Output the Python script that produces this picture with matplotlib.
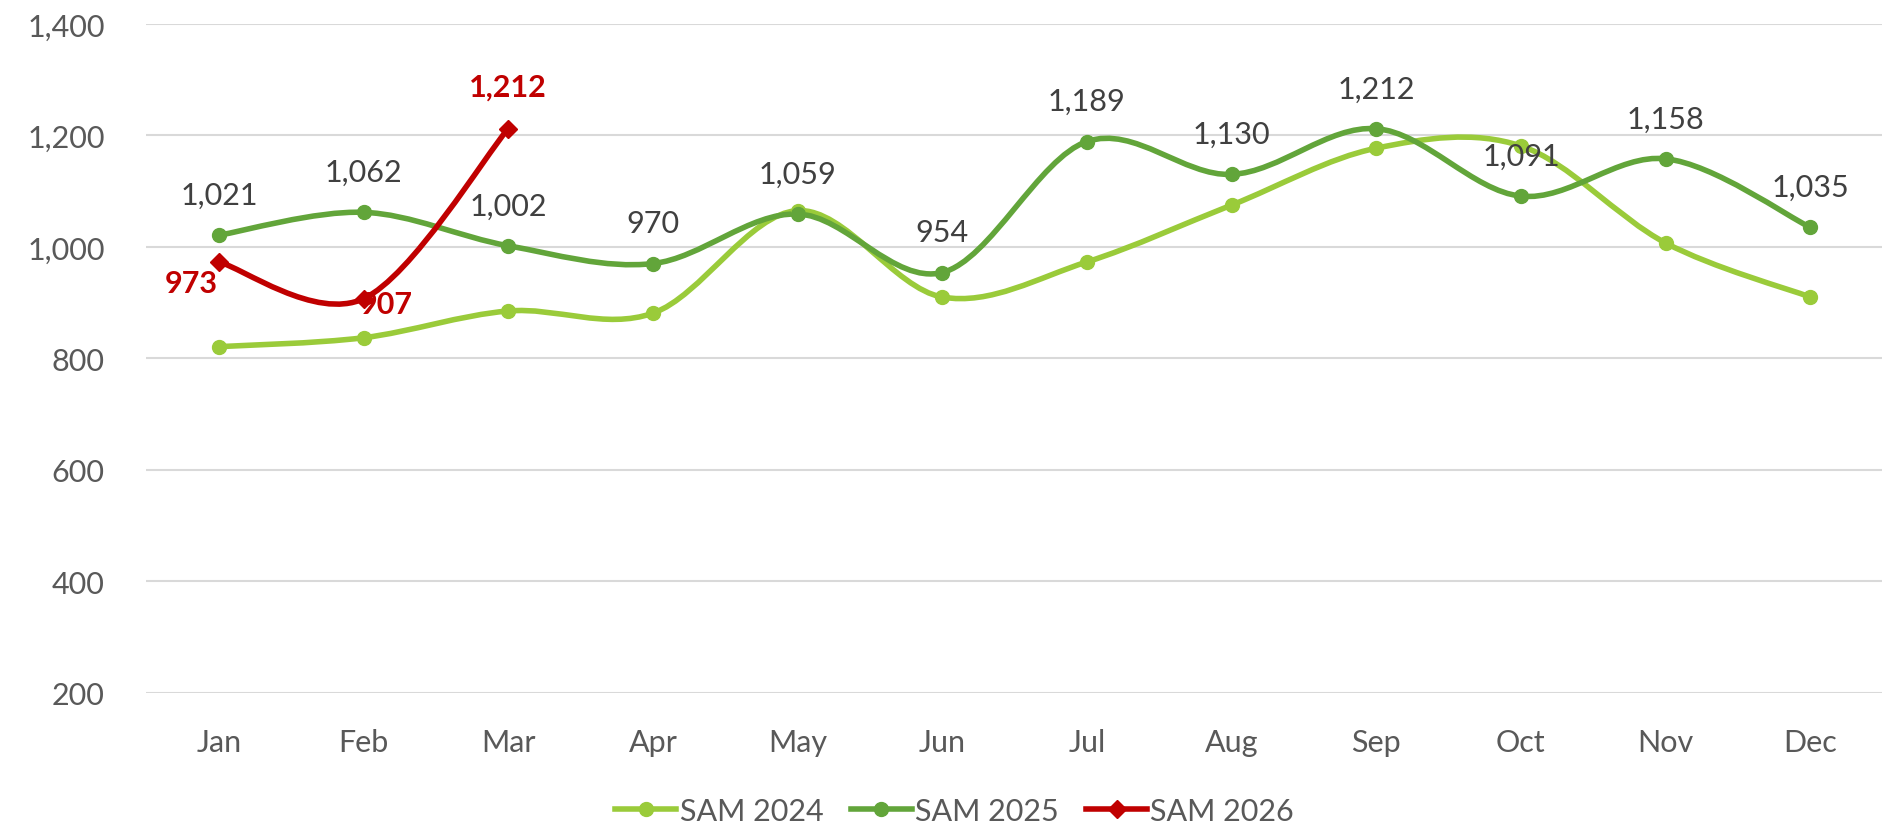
import numpy as np
import matplotlib.pyplot as plt
from matplotlib.path import Path
from matplotlib.patches import PathPatch
from matplotlib.lines import Line2D

plt.rcParams['font.family'] = ['Lato', 'DejaVu Sans']

months = ['Jan', 'Feb', 'Mar', 'Apr', 'May', 'Jun',
          'Jul', 'Aug', 'Sep', 'Oct', 'Nov', 'Dec']
sam_2024 = [821, 837, 885, 881, 1065, 910, 973, 1075, 1177, 1181, 1007, 910]
sam_2025 = [1021, 1062, 1002, 970, 1059, 954, 1189, 1130, 1212, 1091, 1158, 1035]
sam_2026 = [973, 907, 1212]
y_ticks = [200, 400, 600, 800, 1000, 1200, 1400]

c24 = '#9acb3a'
c25 = '#62a53a'
c26 = '#c00000'


def smooth_path(xs, ys):
    # excel style smoothed line: cubic bezier through every point
    pts = np.column_stack([xs, ys]).astype(float)
    n = len(pts)
    verts = [pts[0]]
    codes = [Path.MOVETO]
    for i in range(n - 1):
        p0 = pts[i - 1] if i > 0 else pts[i]
        p1 = pts[i]
        p2 = pts[i + 1]
        p3 = pts[i + 2] if i + 2 < n else pts[i + 1]
        verts += [p1 + (p2 - p0) / 6, p2 - (p3 - p1) / 6, p2]
        codes += [Path.CURVE4] * 3
    return Path(verts, codes)


fig = plt.figure(figsize=(18.83, 8.29), dpi=100)
ax = fig.add_axes([0.0778, 0.163, 0.922, 0.807])

series = [
    (sam_2024, c24, 'o', 'SAM 2024'),
    (sam_2025, c25, 'o', 'SAM 2025'),
    (sam_2026, c26, 'D', 'SAM 2026'),
]
for vals, col, mk, name in series:
    x = np.arange(len(vals))
    ax.add_patch(PathPatch(smooth_path(x, vals), fill=False, edgecolor=col,
                           lw=4, capstyle='round', joinstyle='round', zorder=3))
    ax.plot(x, vals, ls='none', marker=mk, ms=10 if mk == 'o' else 9,
            color=col, zorder=4)

for i, v in enumerate(sam_2025):
    ax.annotate(f'{v:,}', (i, v), xytext=(0, 29), textcoords='offset points',
                ha='center', va='center', fontsize=22, color='#404040', zorder=5)

# red labels, positioned like the original
red_pos = [((-1, -15), 'right'), ((-3, -4), 'left'), ((0, 30), 'center')]
for i, v in enumerate(sam_2026):
    off, ha = red_pos[i]
    ax.annotate(f'{v:,}', (i, v), xytext=off, textcoords='offset points',
                ha=ha, va='center', fontsize=22, fontweight='bold',
                color=c26, zorder=5)

ax.set_xlim(-0.5, 11.5)
ax.set_ylim(200, 1400)
ax.set_xticks(range(12))
ax.set_xticklabels(months)
ax.set_yticks(y_ticks)
ax.set_yticklabels([f'{t:,}' for t in y_ticks])
ax.tick_params(axis='both', length=0, labelsize=22, colors='#595959')
ax.tick_params(axis='x', pad=25)
ax.tick_params(axis='y', pad=30)
ax.grid(axis='y', color='#d9d9d9', lw=1.5)
ax.set_axisbelow(True)
for s in ax.spines.values():
    s.set_visible(False)

handles = [Line2D([], [], color=c, lw=4, marker=m, ms=10 if m == 'o' else 9)
           for _, c, m, _ in series]
fig.legend(handles, [s[3] for s in series], loc='center', ncol=3,
           bbox_to_anchor=(0.507, 0.021), frameon=False, fontsize=22,
           labelcolor='#595959', handlelength=2.0, handletextpad=0.1,
           columnspacing=0.9)

fig.savefig('out.png', dpi=100)
